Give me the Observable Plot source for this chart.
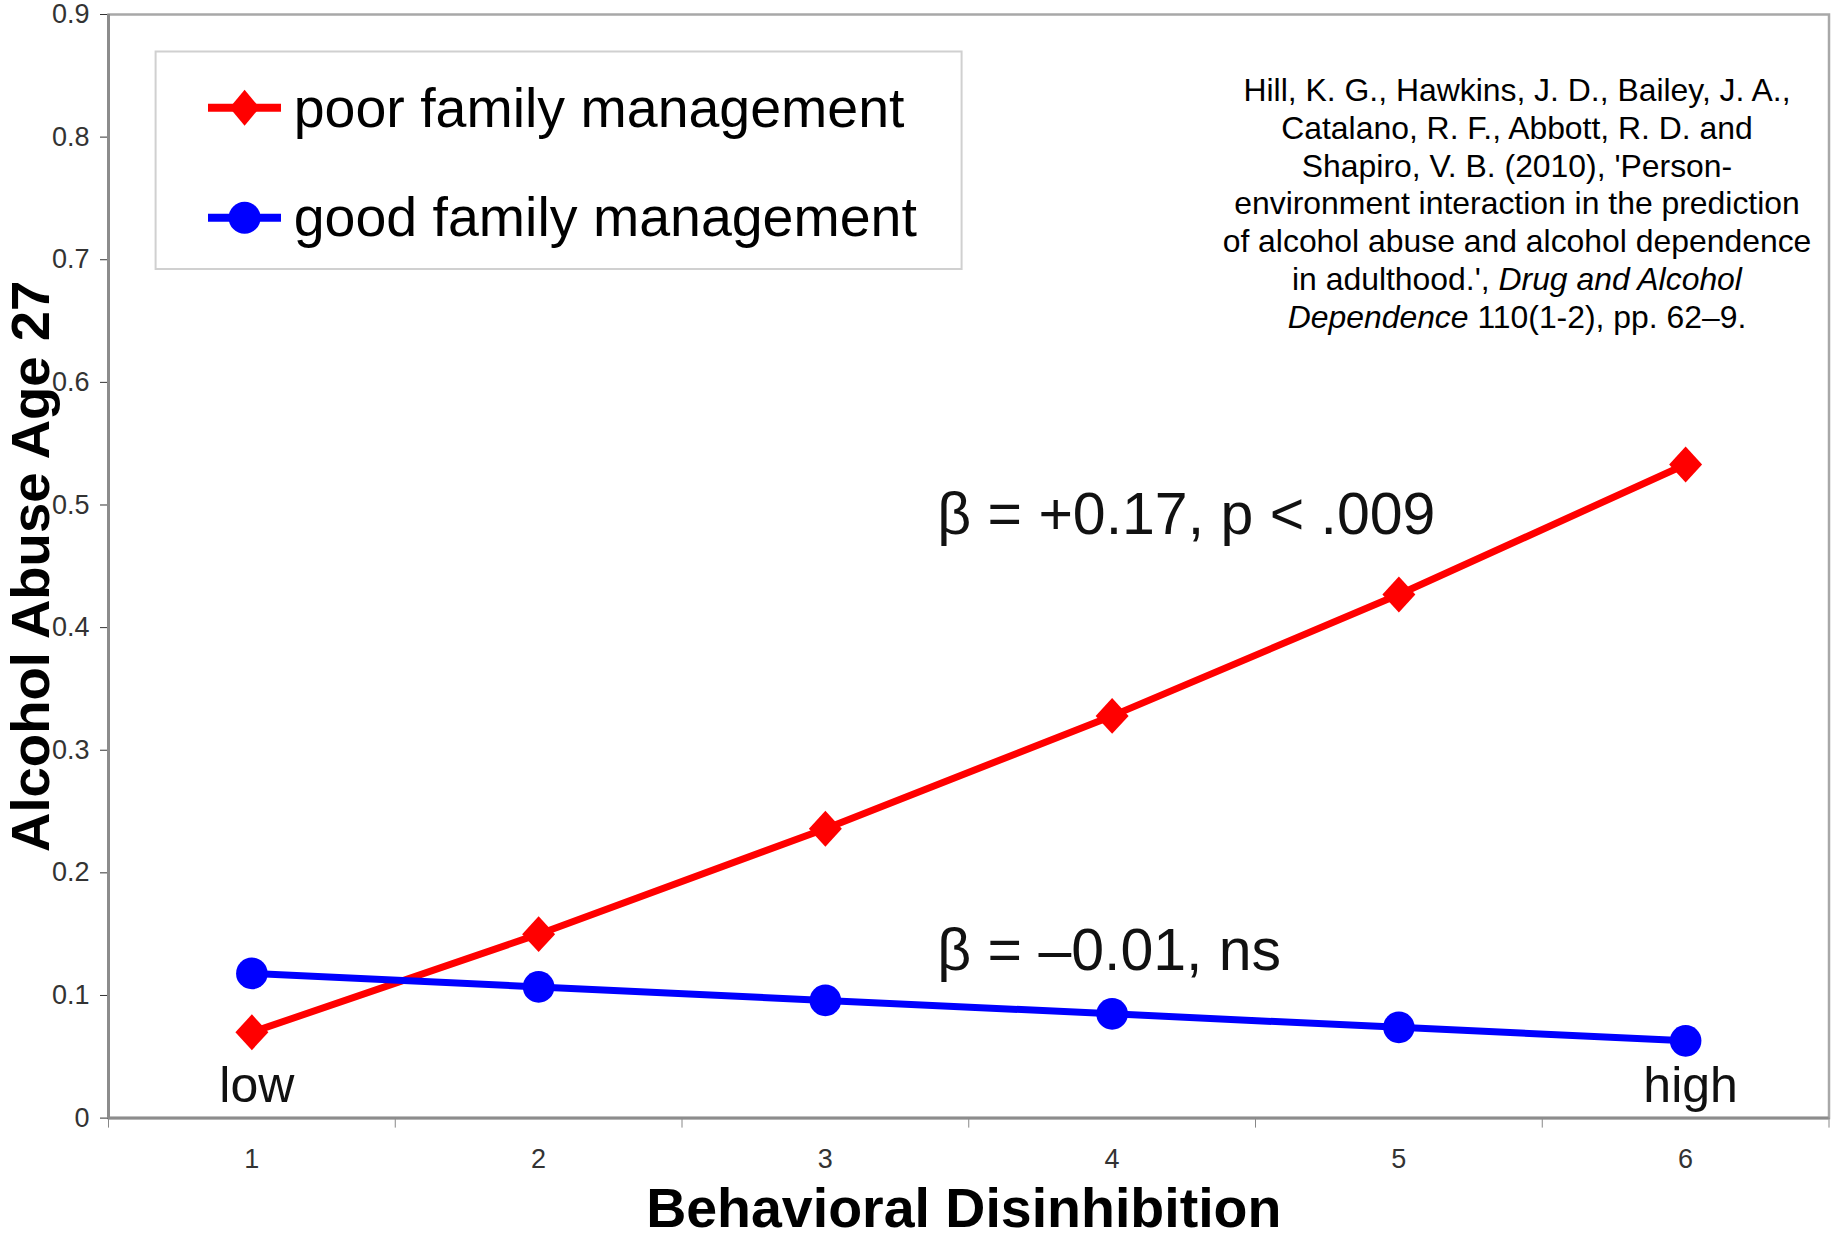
<!DOCTYPE html>
<html>
<head>
<meta charset="utf-8">
<script src="https://cdn.jsdelivr.net/npm/d3@7"></script>
<script src="https://cdn.jsdelivr.net/npm/@observablehq/plot@0.6"></script>
<style>
  html, body { margin: 0; padding: 0; background: #fff; }
  #wrap { position: relative; width: 1835px; height: 1239px; font-family: "Liberation Sans", Arial, sans-serif; }
  #legend { position: absolute; left: 0; top: 0; pointer-events: none; }
  #cite { position: absolute; left: 1197px; top: 72px; width: 640px; text-align: center;
          font-size: 31.9px; line-height: 37.8px; color: #000; white-space: nowrap; }
</style>
</head>
<body>
<div id="wrap"></div>
<script>
// ---- data ----
const levels = [1, 2, 3, 4, 5, 6];
const xTickLabels = ["1", "2", "3", "4", "5", "6"];
const poorFamilyManagement = [0.070, 0.150, 0.236, 0.328, 0.427, 0.533];
const goodFamilyManagement = [0.118, 0.107, 0.096, 0.085, 0.074, 0.063];
const yTicks = [0, 0.1, 0.2, 0.3, 0.4, 0.5, 0.6, 0.7, 0.8, 0.9];
const yTickLabels = ["0", "0.1", "0.2", "0.3", "0.4", "0.5", "0.6", "0.7", "0.8", "0.9"];
const seriesNames = ["poor family management", "good family management"];
const endLabels = ["low", "high"];
const annotationPoor = "β = +0.17, p < .009";
const annotationGood = "β = –0.01, ns";
const xTitle = "Behavioral Disinhibition";
const yTitle = "Alcohol Abuse Age 27";

const poor = levels.map((x, i) => ({x, y: poorFamilyManagement[i]}));
const good = levels.map((x, i) => ({x, y: goodFamilyManagement[i]}));
const xBounds = levels.map(d => d - 0.5).concat([levels[levels.length - 1] + 0.5]);

const RED = "#ff0000", BLUE = "#0000ff";
const diamond = {
  draw(ctx, size) {
    const r = Math.sqrt(size / Math.PI);
    const hw = r * 1.03, hh = r * 1.12;
    ctx.moveTo(0, -hh); ctx.lineTo(hw, 0); ctx.lineTo(0, hh); ctx.lineTo(-hw, 0); ctx.closePath();
  }
};

const chart = Plot.plot({
  width: 1835,
  height: 1239,
  marginLeft: 108,
  marginRight: 6.5,
  marginTop: 14,
  marginBottom: 121.4,
  style: {fontFamily: '"Liberation Sans", Arial, sans-serif', background: "#fff", overflow: "visible"},
  x: {domain: [xBounds[0], xBounds[xBounds.length - 1]]},
  y: {domain: [0, 0.9]},
  marks: [
    Plot.frame({stroke: "#a8a8a8", strokeWidth: 2.5}),
    Plot.axisY(yTicks, {tickSize: 8, tickPadding: 11, fontSize: 27, color: "#333",
      tickFormat: d => yTickLabels[yTicks.indexOf(d)], label: null}),
    Plot.axisX(xBounds, {tickSize: 10, tickFormat: () => "", color: "#888", label: null}),
    Plot.axisX(levels, {tickSize: 0, tickPadding: 31, fontSize: 27, color: "#333",
      tickFormat: d => xTickLabels[levels.indexOf(d)], label: null}),
    Plot.ruleX([xBounds[0]], {stroke: "#8c8c8c", strokeWidth: 3}),
    Plot.ruleY([0], {stroke: "#8c8c8c", strokeWidth: 3}),
    Plot.line(poor, {x: "x", y: "y", stroke: RED, strokeWidth: 7}),
    Plot.line(good, {x: "x", y: "y", stroke: BLUE, strokeWidth: 7}),
    Plot.dot(poor, {x: "x", y: "y", fill: RED, r: 16, symbol: diamond}),
    Plot.dot(good, {x: "x", y: "y", fill: BLUE, r: 15.8, symbol: "circle"}),
    Plot.text([annotationPoor], {x: 3.39, y: 0.492, textAnchor: "start", lineAnchor: "middle", fontSize: 59, fill: "#111"}),
    Plot.text([annotationGood], {x: 3.39, y: 0.136, textAnchor: "start", lineAnchor: "middle", fontSize: 59, fill: "#111"}),
    Plot.text(endLabels, {x: d => d === "low" ? levels[0] : levels[levels.length - 1], y: 0.026, dx: 5,
      textAnchor: "middle", lineAnchor: "middle", fontSize: 50, fill: "#111"}),
    Plot.text([yTitle], {frameAnchor: "left", rotate: -90, dx: -77, fontSize: 54.5, fontWeight: "bold",
      textAnchor: "middle", lineAnchor: "middle", fill: "#000"}),
    Plot.text([xTitle], {frameAnchor: "bottom", dx: -5, dy: 91, fontSize: 55.5, fontWeight: "bold",
      textAnchor: "middle", lineAnchor: "middle", fill: "#000"})
  ]
});

const wrap = document.getElementById("wrap");
wrap.appendChild(chart);

// legend overlay
const NS = "http://www.w3.org/2000/svg";
const lg = document.createElementNS(NS, "svg");
lg.setAttribute("id", "legend");
lg.setAttribute("width", 1835);
lg.setAttribute("height", 1239);
lg.innerHTML = `
  <rect x="155.6" y="51.5" width="806" height="217.5" fill="#fff" stroke="#d0d0d0" stroke-width="2"/>
  <line x1="208" x2="281" y1="107.7" y2="107.7" stroke="${RED}" stroke-width="8"/>
  <path d="M244.6,89.7 L259.6,107.7 L244.6,125.7 L229.6,107.7 Z" fill="${RED}"/>
  <text x="293.7" y="126.5" font-size="55.5" font-family='"Liberation Sans", Arial, sans-serif' fill="#000">${seriesNames[0]}</text>
  <line x1="208" x2="281" y1="217.7" y2="217.7" stroke="${BLUE}" stroke-width="8"/>
  <circle cx="244.6" cy="217.7" r="16" fill="${BLUE}"/>
  <text x="293.7" y="235.5" font-size="55.5" font-family='"Liberation Sans", Arial, sans-serif' fill="#000">${seriesNames[1]}</text>
`;
wrap.appendChild(lg);

// citation
const cite = document.createElement("div");
cite.id = "cite";
cite.innerHTML = "Hill, K. G., Hawkins, J. D., Bailey, J. A.,<br>Catalano, R. F., Abbott, R. D. and<br>Shapiro, V. B. (2010), 'Person-<br>environment interaction in the prediction<br>of alcohol abuse and alcohol dependence<br>in adulthood.', <i>Drug and Alcohol</i><br><i>Dependence</i> 110(1-2), pp. 62–9.";
wrap.appendChild(cite);
</script>
</body>
</html>
